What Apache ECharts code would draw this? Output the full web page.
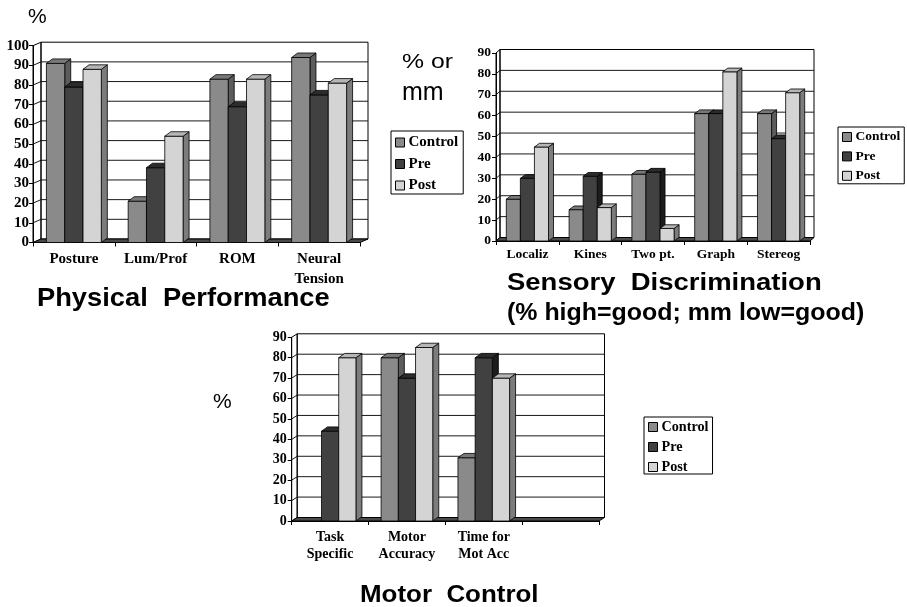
<!DOCTYPE html>
<html>
<head>
<meta charset="utf-8">
<script src="https://cdn.jsdelivr.net/npm/echarts@6/dist/echarts.min.js"></script>
<style>
  html, body { margin: 0; padding: 0; background: #fff; }
  #c { width: 907px; height: 607px; }
</style>
</head>
<body>
<div id="c"></div>
<script>
const seriesNames = ['Control', 'Pre', 'Post'];

// Physical Performance (%)
const physCategories = ['Posture', 'Lum/Prof', 'ROM', 'Neural\nTension'];
const physControl = [91, 21, 83, 94];
const physPre = [79, 38, 69, 75];
const physPost = [88, 54, 83, 81];
const physTicks = [0, 10, 20, 30, 40, 50, 60, 70, 80, 90, 100];

// Sensory Discrimination (% or mm)
const sensCategories = ['Localiz', 'Kines', 'Two pt.', 'Graph', 'Stereog'];
const sensControl = [20, 15, 32, 61, 61];
const sensPre = [30, 31, 33, 61, 49];
const sensPost = [45, 16, 6, 81, 71];
const sensTicks = [0, 10, 20, 30, 40, 50, 60, 70, 80, 90];

// Motor Control (%)
const motorCategories = ['Task\nSpecific', 'Motor\nAccuracy', 'Time for\nMot Acc', ''];
const motorControl = [0, 80, 31, null];
const motorPre = [44, 70, 80, null];
const motorPost = [80, 85, 70, null];
const motorTicks = [0, 10, 20, 30, 40, 50, 60, 70, 80, 90];

// face shades of the pseudo-3D columns
const shades = {
  Control: { front: '#8a8a8a', top: '#787878', side: '#5c5c5c' },
  Pre:     { front: '#414141', top: '#2c2c2c', side: '#1c1c1c' },
  Post:    { front: '#d4d4d4', top: '#b6b6b6', side: '#7c7c7c' }
};

const panels = [
  {
    cats: physCategories, values: [physControl, physPre, physPost], ticks: physTicks,
    grid: { left: 33, top: 45.7, width: 327, height: 196.8 },
    wall: [8, -3.5], depth: [6, -4.5],
    font: 15, lineHeight: 20, xMargin: 7, yMargin: 4,
    legend: { left: 391, top: 131, font: 15, lh: 15, gap: 6.5, pad: [4, 5, 1, 4] }
  },
  {
    cats: sensCategories, values: [sensControl, sensPre, sensPost], ticks: sensTicks,
    grid: { left: 496, top: 53, width: 314, height: 188 },
    wall: [4, -3.5], depth: [5, -3.7],
    font: 13.5, lineHeight: 17, xMargin: 5, yMargin: 5,
    legend: { left: 838, top: 127, font: 13.5, lh: 13, gap: 5.4, pad: [3, 4, 1, 4] }
  },
  {
    cats: motorCategories, values: [motorControl, motorPre, motorPost], ticks: motorTicks,
    grid: { left: 291.7, top: 337.3, width: 307.3, height: 183.7 },
    wall: [5.5, -3.5], depth: [6, -4.3],
    font: 14, lineHeight: 17, xMargin: 8, yMargin: 5,
    legend: { left: 644, top: 417, font: 14.2, lh: 14, gap: 6, pad: [3, 4, 0, 4] }
  }
];

// back wall, left wall, floor and gridlines of one plot box
function frameRenderer(p) {
  return function (params, api) {
    const cs = params.coordSys;
    const dx = p.wall[0], dy = p.wall[1];
    const L = cs.x, R = cs.x + cs.width, T = cs.y, B = cs.y + cs.height;
    const children = [];
    children.push({
      type: 'rect',
      shape: { x: L + dx, y: T + dy, width: cs.width, height: cs.height },
      style: { fill: '#ffffff', stroke: '#000', lineWidth: 1 }
    });
    p.ticks.forEach(function (t) {
      if (t === 0 || t === p.ticks[p.ticks.length - 1]) return;
      const y = api.coord([0, t])[1];
      children.push({
        type: 'line',
        shape: { x1: L + dx, y1: y + dy, x2: R + dx, y2: y + dy },
        style: { stroke: '#1a1a1a', lineWidth: 1 }
      });
      children.push({
        type: 'line',
        shape: { x1: L, y1: y, x2: L + dx, y2: y + dy },
        style: { stroke: '#1a1a1a', lineWidth: 1 }
      });
    });
    children.push({
      type: 'polygon',
      shape: { points: [[L, B], [L, T], [L + dx, T + dy], [L + dx, B + dy]] },
      style: { fill: 'none', stroke: '#000', lineWidth: 1 }
    });
    children.push({
      type: 'polygon',
      shape: { points: [[L, B], [R, B], [R + dx, B + dy], [L + dx, B + dy]] },
      style: { fill: '#4a4a4a', stroke: '#000', lineWidth: 1 }
    });
    return { type: 'group', children: children };
  };
}

// one column: front face, right side face, top face
function barRenderer(slot, shade, depth) {
  return function (params, api) {
    const v = api.value(1);
    if (v == null || isNaN(v) || v <= 0) return;
    const cat = api.value(0);
    const base = api.coord([cat, 0]);
    const top = api.coord([cat, v]);
    const w = api.size([1, 0])[0] * 0.224;
    const dx = depth[0], dy = depth[1];
    const x0 = base[0] + (slot - 1.5) * w;
    const x1 = x0 + w;
    const yb = base[1], yt = top[1];
    const edge = { stroke: '#000', lineWidth: 0.8 };
    return {
      type: 'group',
      children: [
        { type: 'polygon', shape: { points: [[x1, yb], [x1, yt], [x1 + dx, yt + dy], [x1 + dx, yb + dy]] },
          style: Object.assign({ fill: shade.side }, edge) },
        { type: 'rect', shape: { x: x0, y: yt, width: w, height: yb - yt },
          style: Object.assign({ fill: shade.front }, edge) },
        { type: 'polygon', shape: { points: [[x0, yt], [x1, yt], [x1 + dx, yt + dy], [x0 + dx, yt + dy]] },
          style: Object.assign({ fill: shade.top }, edge) }
      ]
    };
  };
}

const grid = [], xAxis = [], yAxis = [], series = [], legend = [];
const serif = 'Liberation Serif';

panels.forEach(function (p, i) {
  grid.push(Object.assign({ containLabel: false, outerBoundsMode: 'none' }, p.grid));
  xAxis.push({
    type: 'category', gridIndex: i, data: p.cats,
    axisLine: { show: true, lineStyle: { color: '#000', width: 1 } },
    axisTick: { show: true, length: 4, lineStyle: { color: '#000' } },
    axisLabel: { interval: 0, color: '#000', fontFamily: serif, fontWeight: 'bold',
                 fontSize: p.font, lineHeight: p.lineHeight, margin: p.xMargin },
    splitLine: { show: false }
  });
  yAxis.push({
    type: 'value', gridIndex: i, min: 0, max: p.ticks[p.ticks.length - 1], interval: 10,
    axisLine: { show: true, lineStyle: { color: '#000', width: 1 } },
    axisTick: { show: true, length: 4, lineStyle: { color: '#000' } },
    axisLabel: { color: '#000', fontFamily: serif, fontWeight: 'bold', fontSize: p.font, margin: p.yMargin },
    splitLine: { show: false }
  });
  series.push({
    type: 'custom', name: 'frame' + i, xAxisIndex: i, yAxisIndex: i,
    data: [[0, 0]], renderItem: frameRenderer(p), clip: false, silent: true
  });
  seriesNames.forEach(function (name, k) {
    series.push({
      type: 'custom', name: name, xAxisIndex: i, yAxisIndex: i,
      itemStyle: { color: shades[name].front },
      encode: { x: 0, y: 1 },
      data: p.values[k].map(function (v, j) { return [j, v]; }),
      renderItem: barRenderer(k, shades[name], p.depth),
      clip: false
    });
  });
  const lg = p.legend;
  legend.push({
    data: seriesNames, orient: 'vertical', left: lg.left, top: lg.top,
    icon: 'rect', itemWidth: 9, itemHeight: 9, itemGap: lg.gap, padding: lg.pad,
    borderColor: '#000', borderWidth: 1, selectedMode: false,
    itemStyle: { borderColor: '#000', borderWidth: 1 },
    textStyle: { color: '#000', fontFamily: serif, fontWeight: 'bold', fontSize: lg.font, lineHeight: lg.lh, padding: [0, 0, 0, -1] }
  });
});

// free-standing captions and unit labels
const captions = [
  { text: '%', x: 28, y: 17.5, size: 21, bold: false, sx: 1 },
  { text: '% or', x: 402, y: 62, size: 21, bold: false, sx: 1.18 },
  { text: 'mm', x: 402, y: 92.8, size: 25, bold: false, sx: 1 },
  { text: '%', x: 213, y: 402.5, size: 21, bold: false, sx: 1 },
  { text: 'Physical  Performance', x: 37, y: 299, size: 25.5, bold: true, sx: 1.07 },
  { text: 'Sensory  Discrimination', x: 507, y: 283.4, size: 23.3, bold: true, sx: 1.18 },
  { text: '(% high=good; mm low=good)', x: 507, y: 313.5, size: 23.3, bold: true, sx: 1.07 },
  { text: 'Motor  Control', x: 360, y: 595, size: 24, bold: true, sx: 1.08 }
];

const graphic = captions.map(function (c) {
  return {
    type: 'text', x: c.x, y: c.y, scaleX: c.sx, silent: true,
    style: {
      text: c.text, fill: '#000',
      font: (c.bold ? 'bold ' : '') + c.size + 'px "Liberation Sans"',
      align: 'left', verticalAlign: 'middle',
      textAlign: 'left', textVerticalAlign: 'middle'
    }
  };
});

const chart = echarts.init(document.getElementById('c'));
chart.setOption({
  animation: false,
  backgroundColor: '#ffffff',
  grid: grid, xAxis: xAxis, yAxis: yAxis,
  legend: legend, series: series, graphic: graphic
});
</script>
</body>
</html>
